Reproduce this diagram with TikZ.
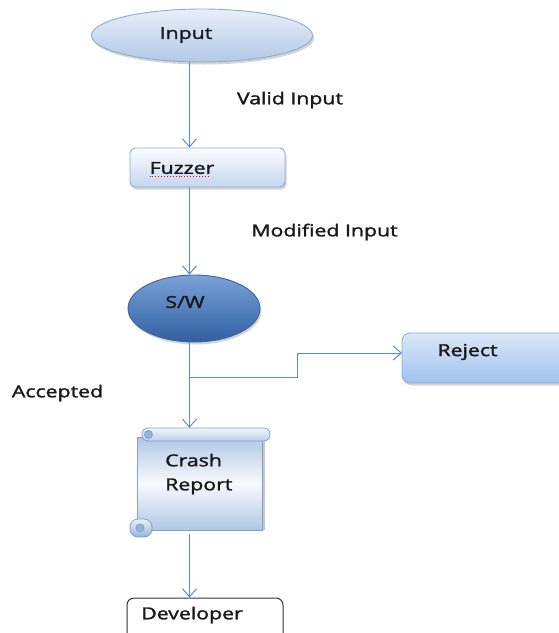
\documentclass[tikz,border=0pt]{standalone}
\usepackage{fontspec}
\setmainfont{Open Sans}
\newfontfamily\lblfont{Open Sans}[FakeBold=1.6]
\usetikzlibrary{arrows.meta,shadows,shapes.geometric}
\definecolor{linec}{RGB}{92,138,200}
\definecolor{inTop}{RGB}{232,239,249}
\definecolor{inBot}{RGB}{178,201,230}
\definecolor{inBord}{RGB}{140,172,214}
\definecolor{fzTop}{RGB}{252,253,255}
\definecolor{fzBot}{RGB}{196,214,238}
\definecolor{swTop}{RGB}{122,162,216}
\definecolor{swBot}{RGB}{48,95,160}
\definecolor{swBord}{RGB}{60,100,160}
\definecolor{rjTop}{RGB}{220,232,248}
\definecolor{rjBot}{RGB}{160,193,238}
\definecolor{scBord}{RGB}{130,160,205}
\definecolor{scEdge}{RGB}{176,199,230}
\definecolor{scRoll}{RGB}{186,206,234}
\definecolor{scDark}{RGB}{150,180,220}
\definecolor{txt}{RGB}{25,25,25}
\definecolor{devBord}{RGB}{50,50,50}
\newcommand\widetxt[1]{\scalebox{1.29}[1]{#1}}
\begin{document}
\begin{tikzpicture}[x=1pt,y=-1pt,
  conn/.style={draw=linec, line width=1pt, -{Straight Barb[length=8pt,width=14pt,line width=1pt]}},
  lbl/.style={font=\lblfont\fontsize{16.5}{21}\selectfont, text=txt, inner sep=0pt},
  shad/.style={drop shadow={shadow xshift=1.5pt, shadow yshift=-2.5pt, opacity=0.28, fill=black!60}},
  inputshape/.style={ellipse, draw=inBord, line width=0.9pt, top color=inTop, bottom color=inBot, shad, inner sep=0pt},
  fuzzshape/.style={rectangle, rounded corners=5pt, draw=inBord, line width=0.9pt, top color=fzTop, bottom color=fzBot, shad, inner sep=0pt},
  swshape/.style={ellipse, draw=swBord, line width=0.9pt, top color=swTop, bottom color=swBot, shad, inner sep=0pt},
  rejshape/.style={rectangle, rounded corners=8pt, draw=inBord, line width=0.9pt, top color=rjTop, bottom color=rjBot, shad, inner sep=0pt},
  devshape/.style={rectangle, rounded corners=7pt, draw=devBord, line width=1pt, fill=white, inner sep=0pt},
  scrollpart/.style={draw=scBord, line width=0.8pt}
]
\useasboundingbox (0,0) rectangle (559,633);
\clip (0,0) rectangle (559,633);

% shapes
\node[inputshape, minimum width=221pt, minimum height=53pt] (input) at (202,35.5) {};
\node[fuzzshape, minimum width=155pt, minimum height=39pt] (fuzzer) at (207.5,167.5) {};
\node[swshape, minimum width=132pt, minimum height=67pt] (sw) at (194,308.5) {};
\node[rejshape, minimum width=170pt, minimum height=50pt] (reject) at (487,358) {};
\node[devshape, minimum width=156pt, minimum height=44pt] (dev) at (205,620) {};

% scroll (Crash Report)
\fill[black, opacity=0.22] (139.5,440) -- (139.5,530) -- (264.5,530) -- (264.5,440) -- cycle;
\path[scrollpart, left color=scEdge, right color=scEdge, middle color=white!92!scEdge, shading angle=0] (137,437) -- (137,530) -- (262,530) -- (262,437) -- cycle;
\path[scrollpart, top color=white!80!scRoll, bottom color=scRoll, rounded corners=6pt] (142,428) rectangle (270,441);
\path[scrollpart, fill=scDark] (148.5,434.5) circle[radius=4];
\path[scrollpart, top color=white!70!scRoll, bottom color=scDark, rounded corners=8pt] (130,519) rectangle (152,537);
\path[scrollpart, fill=scDark] (140,528) circle[radius=4];
\node[rectangle, minimum width=140pt, minimum height=106pt, inner sep=0pt] (crash) at (200,481) {};

% texts
\node[lbl] (inputtxt) at (186,35) {\widetxt{Input}};
\node[lbl] (fuzzertxt) at (182,168) {\widetxt{Fuzzer}};
\draw[red, line width=0.9pt, dotted] (fuzzertxt.south west) ++(0,2.5) -- ++(60,0);
\node[lbl] (swtxt) at (185,302) {\widetxt{S/W}};
\node[lbl] (rejecttxt) at (467.5,352) {\widetxt{Reject}};
\node[lbl, anchor=west, align=left] (crashtxt) at (165,474) {\widetxt{Crash}\\[3pt]\widetxt{Report}};
\node[lbl] (devtxt) at (192,615) {\widetxt{Developer}};
\node[lbl] (validtxt) at (290,100) {\widetxt{Valid Input}};
\node[lbl] (modtxt) at (324.5,232) {\widetxt{Modified Input}};
\node[lbl] (acctxt) at (57.5,393) {\widetxt{Accepted}};

% connectors
\coordinate (ax) at (189.5,0);
\coordinate (br) at (189.5,377);
\coordinate (bend) at (297,0);
\coordinate (rj) at (402,353);
\draw[conn] (ax |- input.south) -- (ax |- fuzzer.north);
\draw[conn] (ax |- fuzzer.south) -- (ax |- sw.north);
\draw[conn] (ax |- sw.south) -- (ax |- crash.north);
\draw[conn] (br) -- (br -| bend) -- (bend |- rj) -- (rj);
\draw[conn] (ax |- crash.south) -- (ax |- dev.north);
\end{tikzpicture}
\end{document}
